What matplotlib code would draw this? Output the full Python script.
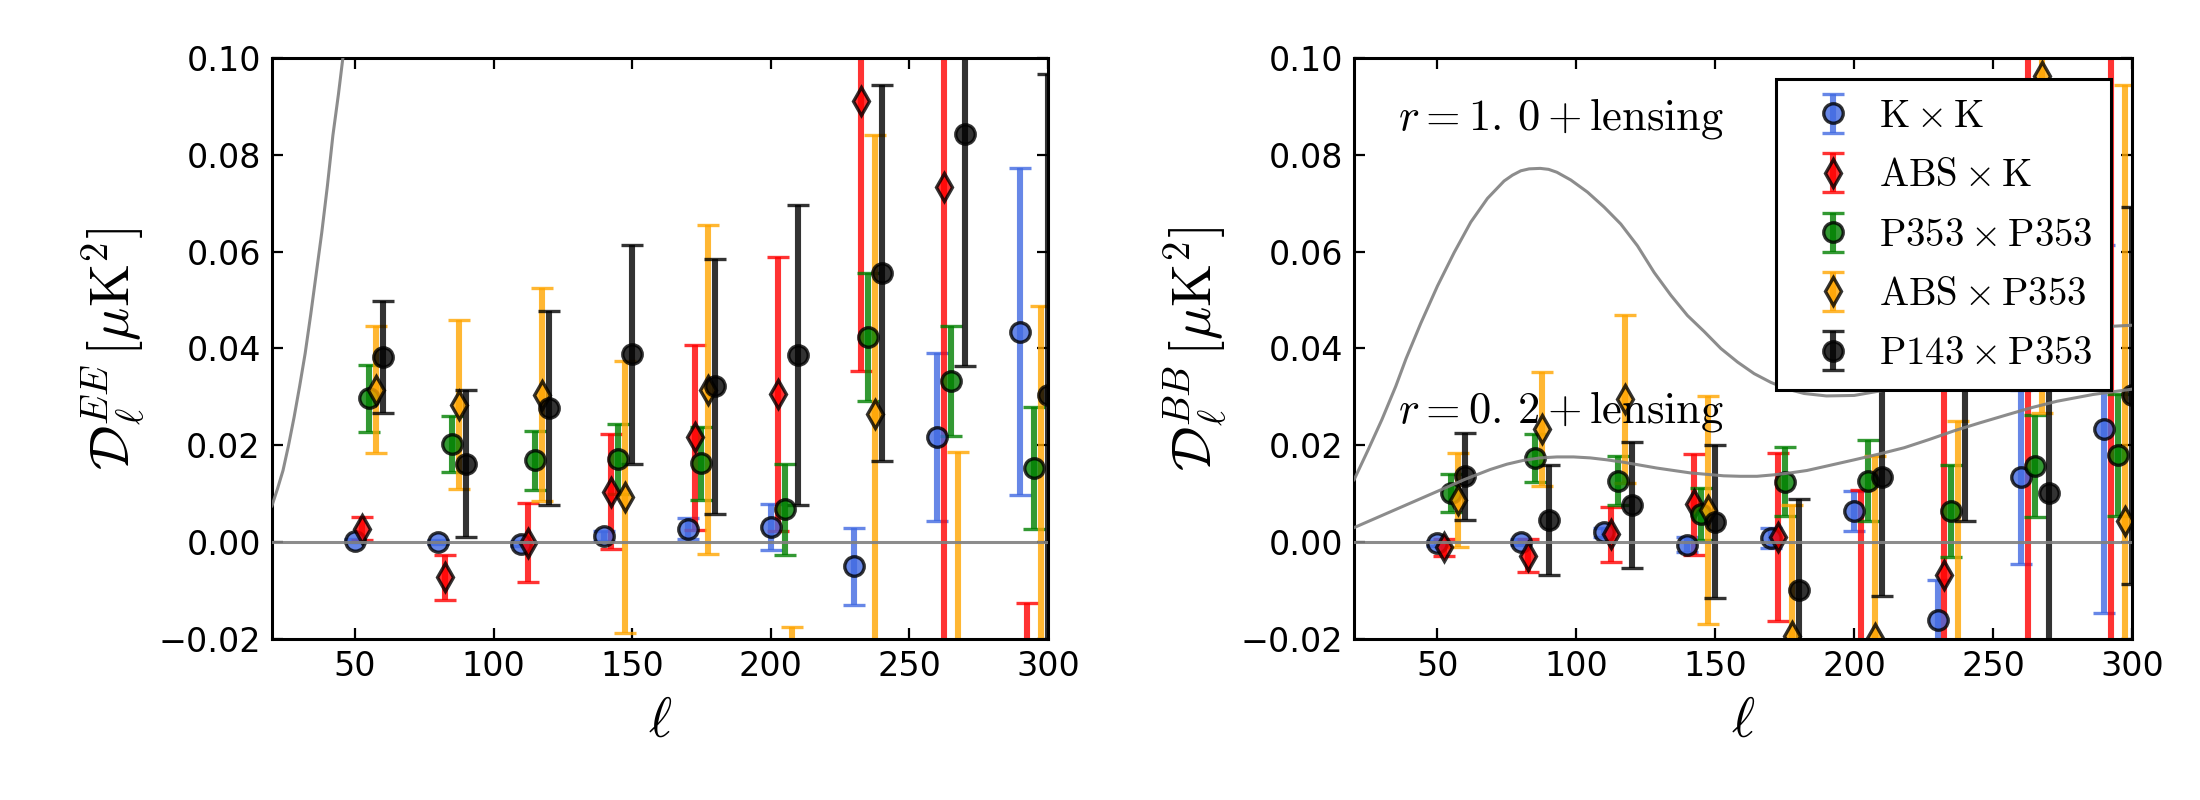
import numpy as np
import matplotlib
matplotlib.use("Agg")
import matplotlib.pyplot as plt

# ---------------- data ----------------
ell_bins = [50, 80, 110, 140, 170, 200, 230, 260, 290]
series_labels = [r"$\rm K\times K$", r"$\rm ABS\times K$", r"$\rm P353\times P353$",
                 r"$\rm ABS\times P353$", r"$\rm P143\times P353$"]
series_offsets = [0.0, 2.5, 5.0, 7.5, 10.0]

# EE
ee_KxK = [0.0003, 0.0000, -0.0003, 0.0013, 0.0028, 0.0031, -0.0050, 0.0217, 0.0435]
ee_KxK_err = [0.0003, 0.0004, 0.0006, 0.0010, 0.0021, 0.0047, 0.0079, 0.0174, 0.0337]
ee_ABSxK = [0.0028, -0.0073, -0.0001, 0.0104, 0.0217, 0.0305, 0.0912, 0.0733, -0.1330]
ee_ABSxK_err = [0.0023, 0.0046, 0.0081, 0.0119, 0.0191, 0.0283, 0.0559, 0.1000, 0.1204]
ee_P353 = [0.0297, 0.0202, 0.0169, 0.0171, 0.0163, 0.0068, 0.0423, 0.0333, 0.0153]
ee_P353_err = [0.0069, 0.0058, 0.0061, 0.0072, 0.0075, 0.0094, 0.0132, 0.0114, 0.0126]
ee_ABSxP = [0.0315, 0.0284, 0.0304, 0.0093, 0.0315, -0.0626, 0.0264, -0.0514, -0.0413]
ee_ABSxP_err = [0.0131, 0.0175, 0.0220, 0.0281, 0.0340, 0.0450, 0.0577, 0.0700, 0.0900]
ee_P143 = [0.0382, 0.0162, 0.0277, 0.0388, 0.0322, 0.0386, 0.0556, 0.0843, 0.0303]
ee_P143_err = [0.0116, 0.0152, 0.0200, 0.0226, 0.0263, 0.0310, 0.0388, 0.0480, 0.0664]

# BB
bb_KxK = [-0.0002, 0.0000, 0.0020, -0.0005, 0.0009, 0.0065, -0.0161, 0.0135, 0.0234]
bb_KxK_err = [0.0005, 0.0006, 0.0010, 0.0015, 0.0021, 0.0041, 0.0083, 0.0180, 0.0380]
bb_ABSxK = [-0.0011, -0.0028, 0.0016, 0.0078, 0.0011, -0.0260, -0.0068, 0.0600, -0.0350]
bb_ABSxK_err = [0.0018, 0.0034, 0.0057, 0.0104, 0.0173, 0.0368, 0.0500, 0.1000, 0.1500]
bb_P353 = [0.0101, 0.0174, 0.0127, 0.0058, 0.0125, 0.0127, 0.0065, 0.0157, 0.0180]
bb_P353_err = [0.0039, 0.0050, 0.0051, 0.0053, 0.0072, 0.0083, 0.0095, 0.0106, 0.0126]
bb_ABSxP = [0.0087, 0.0234, 0.0296, 0.0066, -0.0194, -0.0197, -0.0300, 0.0962, 0.0044]
bb_ABSxP_err = [0.0097, 0.0118, 0.0174, 0.0236, 0.0271, 0.0375, 0.0550, 0.0696, 0.0900]
bb_P143 = [0.0136, 0.0046, 0.0076, 0.0042, -0.0098, 0.0135, 0.0340, 0.0101, 0.0303]
bb_P143_err = [0.0090, 0.0113, 0.0130, 0.0158, 0.0188, 0.0246, 0.0296, 0.0450, 0.0390]

# theory curves
ee_theory_ell = [20, 22, 24, 26, 28, 30, 32, 34, 36, 38, 40, 42, 44, 45.6, 47]
ee_theory_dl = [0.0075, 0.0110, 0.0148, 0.0200, 0.0258, 0.0322, 0.0390, 0.0470, 0.0555,
                0.0640, 0.0735, 0.0840, 0.0925, 0.1000, 0.1080]

bb_r10_ell = [20, 25, 30, 35, 38.7, 44, 50, 56, 62, 68, 74, 77, 80, 83, 87, 90, 93, 98,
              104, 110, 116, 122, 128, 134, 140, 146, 152, 158, 164, 170, 176, 182, 190,
              200, 215, 230, 245, 260, 275, 290, 300]
bb_r10_dl = [0.0129, 0.0190, 0.0253, 0.0322, 0.0379, 0.0452, 0.0529, 0.0598, 0.0661,
             0.0710, 0.0746, 0.0758, 0.0767, 0.0771, 0.0772, 0.0770, 0.0764, 0.0748,
             0.0723, 0.0692, 0.0657, 0.0612, 0.0557, 0.0510, 0.0468, 0.0435, 0.0400,
             0.0372, 0.0348, 0.0330, 0.0316, 0.0307, 0.0302, 0.0303, 0.0318, 0.0345,
             0.0375, 0.0405, 0.0430, 0.0445, 0.0448]

bb_r02_ell = [20, 30, 40, 50, 60, 69, 75, 81, 87, 93, 99, 105, 111, 117, 123, 129, 135,
              141, 147, 153, 159, 165, 171, 177, 183, 190, 200, 209, 218, 227, 236, 245,
              255, 264, 273, 286, 300]
bb_r02_dl = [0.0030, 0.0055, 0.0080, 0.0105, 0.0130, 0.0150, 0.0161, 0.0169, 0.0174,
             0.0176, 0.0176, 0.0174, 0.0170, 0.0165, 0.0159, 0.0153, 0.0148, 0.0143,
             0.0140, 0.0137, 0.0136, 0.0136, 0.0139, 0.0143, 0.0148, 0.0157, 0.0170,
             0.0182, 0.0195, 0.0212, 0.0230, 0.0246, 0.0263, 0.0278, 0.0291, 0.0305,
             0.0316]

# ---------------- style ----------------
plt.rcParams.update({
    "font.family": "DejaVu Sans",
    "mathtext.fontset": "cm",
    "font.size": 12,
    "xtick.direction": "in",
    "ytick.direction": "in",
    "xtick.top": True,
    "ytick.right": True,
    "xtick.major.size": 4,
    "ytick.major.size": 4,
    "xtick.major.pad": 4,
    "ytick.major.pad": 4,
    "axes.linewidth": 1.1,
})

colors = ["royalblue", "red", "green", "orange", "black"]
markers = ["o", "d", "o", "d", "o"]

fig = plt.figure(figsize=(11, 4), dpi=200)
ax1 = fig.add_axes([0.1236, 0.2013, 0.3527, 0.7262])
ax2 = fig.add_axes([0.6155, 0.2013, 0.3536, 0.7262])

ee_data = [(ee_KxK, ee_KxK_err), (ee_ABSxK, ee_ABSxK_err), (ee_P353, ee_P353_err),
           (ee_ABSxP, ee_ABSxP_err), (ee_P143, ee_P143_err)]
bb_data = [(bb_KxK, bb_KxK_err), (bb_ABSxK, bb_ABSxK_err), (bb_P353, bb_P353_err),
           (bb_ABSxP, bb_ABSxP_err), (bb_P143, bb_P143_err)]

for ax, data in [(ax1, ee_data), (ax2, bb_data)]:
    for (vals, errs), off, c, m, lab in zip(data, series_offsets, colors, markers, series_labels):
        x = np.array(ell_bins) + off
        ax.errorbar(x, vals, yerr=errs, fmt=m, color=c, mfc=c, mec="k", mew=1.2, ms=7,
                    elinewidth=2.2, capsize=4, capthick=1.6, alpha=0.8, label=lab, zorder=2)

# grey reference lines drawn on top of the points
curve_kw = dict(color="grey", lw=1.1, alpha=0.9, zorder=3)
ax1.plot(ee_theory_ell, ee_theory_dl, **curve_kw)
ax1.axhline(0, **curve_kw)
ax2.plot(bb_r10_ell, bb_r10_dl, **curve_kw)
ax2.plot(bb_r02_ell, bb_r02_dl, **curve_kw)
ax2.axhline(0, **curve_kw)

for ax in (ax1, ax2):
    ax.set_xlim(20, 300)
    ax.set_ylim(-0.02, 0.10)
    ax.set_xticks([50, 100, 150, 200, 250, 300])
    ax.set_yticks([-0.02, 0.0, 0.02, 0.04, 0.06, 0.08, 0.10])
    ax.set_xlabel(r"$\ell$", fontsize=20)

ax1.set_ylabel(r"$\mathcal{D}_\ell^{EE}\,[\mu{\rm K}^2]$", fontsize=20)
ax2.set_ylabel(r"$\mathcal{D}_\ell^{BB}\,[\mu{\rm K}^2]$", fontsize=20)

ax2.text(35.7, 0.0852, r"$r=1.\,0+\mathrm{lensing}$", fontsize=16, va="baseline")
ax2.text(35.7, 0.0247, r"$r=0.\,2+\mathrm{lensing}$", fontsize=16, va="baseline")

leg = ax2.legend(loc="upper right", numpoints=1, fontsize=14, fancybox=False,
                 framealpha=1.0, edgecolor="black", borderaxespad=0.55,
                 handlelength=2.0, handletextpad=0.2, borderpad=0.45, labelspacing=0.55)
leg.set_zorder(10)
leg.get_frame().set_linewidth(1.1)

fig.savefig("out.png", dpi=200, facecolor="white")
